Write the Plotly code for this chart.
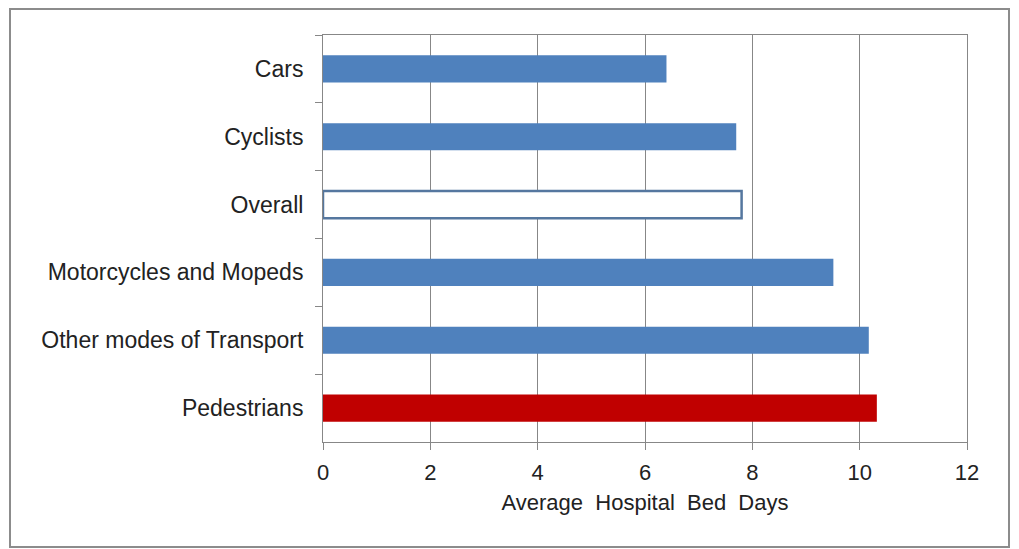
import plotly.graph_objects as go

categories = ["Cars", "Cyclists", "Overall", "Motorcycles and Mopeds",
              "Other modes of Transport", "Pedestrians"]
values = [6.40, 7.70, 7.80, 9.51, 10.17, 10.32]
fill_colors = ["#4F81BD", "#4F81BD", "#FFFFFF", "#4F81BD", "#4F81BD", "#C00000"]
line_colors = ["#4F81BD", "#4F81BD", "#55779F", "#4F81BD", "#4F81BD", "#C00000"]
line_widths = [0, 0, 2.5, 0, 0, 0]
x_ticks = [0, 2, 4, 6, 8, 10, 12]

fig = go.Figure()
fig.add_trace(go.Bar(
    y=categories, x=values, orientation="h", width=0.4,
    marker=dict(color=fill_colors, line=dict(color=line_colors, width=line_widths)),
    showlegend=False, hoverinfo="x+y",
))

grid_c = "#878787"
font_fam = "Liberation Sans, Arial, sans-serif"

# page body has an 8px margin, so the figure is offset by 8px
W, H = 1011, 541
L, T = 315, 27
PW, PH = 644, 407

fig.update_layout(
    width=W, height=H,
    margin=dict(l=L, r=W - L - PW, t=T, b=H - T - PH),
    paper_bgcolor="white", plot_bgcolor="white",
    font=dict(family=font_fam, size=22, color="#222222"),
    xaxis=dict(
        range=[0, 12], tickvals=x_ticks, ticktext=[str(v) for v in x_ticks],
        showgrid=True, gridcolor=grid_c, gridwidth=1,
        showline=True, linecolor=grid_c, linewidth=1, mirror=True,
        ticks="outside", ticklen=7, tickcolor=grid_c,
        ticklabelstandoff=4,
        zeroline=False,
        tickfont=dict(size=22),
        title=dict(text="Average  Hospital  Bed  Days", font=dict(size=22), standoff=10),
    ),
    yaxis=dict(
        type="category", categoryorder="array", categoryarray=categories,
        autorange="reversed",
        showgrid=False, showline=True, linecolor=grid_c, linewidth=1, mirror=True,
        ticks="outside", ticklen=7, tickcolor=grid_c, tickson="boundaries",
        ticklabelstandoff=14,
        tickfont=dict(size=23),
    ),
    shapes=[dict(
        type="rect", xref="paper", yref="paper",
        x0=(2 - L) / PW, x1=(1001 - L) / PW,
        y0=(T + PH - 539) / PH, y1=(T + PH - 1) / PH,
        line=dict(color="#8C8C8C", width=2), fillcolor="rgba(0,0,0,0)", layer="below",
    )],
)

fig.write_html("out.html")
